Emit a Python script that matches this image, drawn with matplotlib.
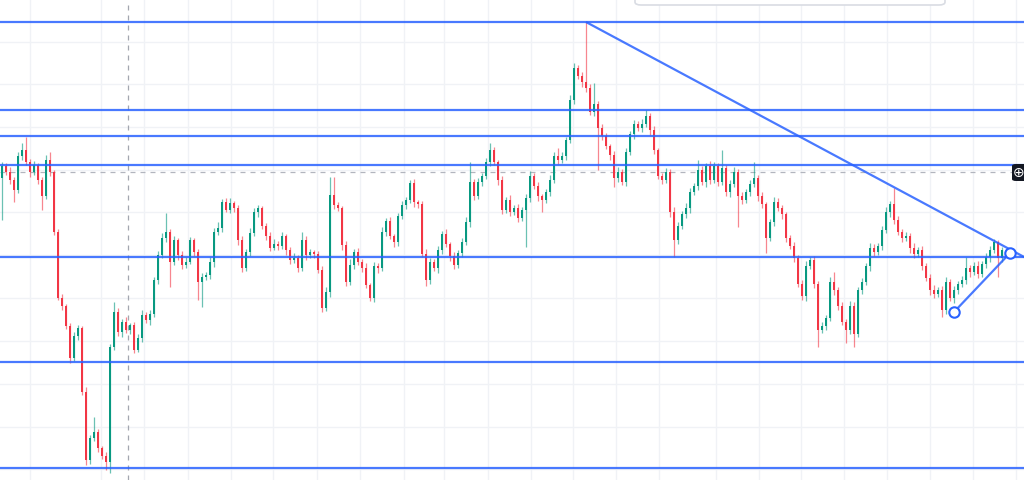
import numpy as np
import matplotlib.pyplot as plt
from matplotlib.patches import FancyBboxPatch

# candle data (price units), one bar per 4 px of the original screenshot
first_open = 302
closes = [
    314, 308, 300, 290, 324, 330, 318, 308, 315, 300,
    284, 320, 308, 248, 182, 174, 154, 122, 144, 152,
    88, 20, 42, 48, 32, 24, 18, 133, 168, 148,
    158, 150, 155, 130, 142, 165, 160, 166, 200, 225,
    242, 248, 218, 240, 225, 215, 218, 240, 228, 198,
    203, 205, 218, 248, 252, 278, 270, 277, 272, 240,
    212, 228, 247, 268, 272, 254, 244, 232, 236, 234,
    244, 230, 220, 222, 212, 240, 225, 228, 226, 210,
    172, 188, 285, 275, 272, 235, 198, 215, 228, 218,
    212, 195, 182, 214, 212, 248, 259, 244, 238, 264,
    275, 280, 297, 278, 276, 226, 200, 218, 212, 230,
    246, 236, 224, 215, 227, 238, 258, 298, 284, 298,
    304, 318, 330, 318, 300, 270, 280, 268, 272, 262,
    270, 282, 304, 294, 284, 280, 288, 300, 324, 320,
    324, 340, 380, 412, 404, 398, 392, 368, 376, 352,
    344, 334, 325, 302, 308, 298, 328, 346, 356, 352,
    356, 364, 350, 330, 304, 300, 308, 268, 240, 254,
    266, 272, 288, 294, 310, 298, 314, 300, 314, 298,
    312, 288, 296, 308, 284, 280, 288, 296, 302, 284,
    276, 242, 258, 278, 272, 266, 242, 234, 222, 196,
    184, 214, 220, 196, 150, 154, 162, 198, 190, 174,
    158, 150, 174, 146, 190, 198, 214, 232, 228, 234,
    250, 268, 276, 260, 248, 242, 244, 232, 226, 230,
    214, 202, 190, 186, 190, 170, 198, 182, 190, 196,
    200, 212, 208, 214, 206, 216, 223, 230, 238, 222,
    230,
]
upper_wicks = [
    4, 3, 5, 3, 4, 7, 13, 3, 4, 2,
    3, 5, 8, 2, 3, 4, 2, 3, 4, 3,
    2, 5, 3, 15, 3, 2, 4, 3, 10, 4,
    3, 5, 2, 3, 4, 5, 3, 4, 3, 4,
    5, 19, 3, 4, 2, 4, 5, 3, 2, 3,
    4, 3, 5, 4, 6, 3, 4, 5, 2, 3,
    4, 3, 5, 4, 3, 2, 3, 4, 5, 3,
    4, 2, 3, 5, 3, 8, 4, 3, 2, 3,
    4, 5, 18, 18, 3, 2, 4, 6, 3, 4,
    3, 5, 2, 4, 3, 5, 3, 4, 2, 3,
    4, 3, 3, 4, 2, 3, 5, 4, 3, 4,
    3, 5, 2, 4, 3, 4, 5, 20, 3, 4,
    3, 4, 7, 3, 2, 4, 3, 5, 3, 4,
    3, 4, 5, 3, 4, 2, 3, 5, 4, 8,
    4, 3, 5, 5, 3, 4, 60, 4, 21, 3,
    4, 3, 2, 4, 5, 3, 4, 3, 4, 3,
    5, 6, 3, 4, 2, 3, 4, 3, 5, 4,
    3, 5, 4, 3, 10, 4, 3, 5, 4, 3,
    18, 3, 4, 5, 3, 4, 3, 4, 16, 3,
    4, 2, 3, 5, 4, 3, 2, 3, 4, 3,
    4, 5, 3, 4, 3, 4, 3, 5, 10, 3,
    4, 3, 5, 4, 3, 4, 3, 5, 4, 3,
    4, 5, 3, 16, 4, 3, 4, 3, 5, 3,
    4, 3, 4, 5, 3, 4, 5, 3, 4, 3,
    4, 11, 3, 4, 5, 3, 4, 4, 3, 2,
    3,
]
lower_wicks = [
    42, 3, 4, 12, 3, 4, 3, 5, 3, 4,
    14, 3, 4, 3, 2, 4, 3, 5, 3, 4,
    3, 5, 4, 3, 4, 3, 8, 11, 3, 4,
    5, 3, 4, 3, 2, 4, 3, 5, 3, 4,
    3, 4, 25, 3, 5, 4, 3, 2, 4, 18,
    25, 3, 4, 5, 3, 4, 2, 3, 4, 5,
    4, 3, 4, 3, 5, 3, 4, 3, 2, 4,
    3, 5, 4, 3, 4, 3, 5, 3, 4, 3,
    4, 3, 5, 4, 3, 5, 4, 3, 4, 3,
    4, 3, 3, 4, 5, 3, 4, 3, 5, 4,
    3, 4, 3, 5, 4, 3, 6, 4, 3, 5,
    4, 3, 5, 4, 3, 4, 3, 5, 4, 3,
    4, 3, 4, 3, 5, 4, 3, 4, 3, 4,
    3, 37, 4, 3, 5, 12, 3, 4, 3, 4,
    3, 4, 3, 4, 3, 5, 4, 3, 4, 42,
    4, 3, 5, 9, 4, 3, 4, 3, 5, 3,
    4, 3, 5, 4, 3, 4, 3, 5, 17, 4,
    3, 4, 5, 3, 4, 3, 5, 4, 3, 4,
    3, 4, 5, 3, 31, 4, 3, 4, 3, 5,
    4, 15, 3, 4, 3, 5, 4, 3, 4, 3,
    4, 5, 3, 4, 17, 3, 4, 3, 5, 4,
    3, 13, 4, 13, 3, 4, 3, 5, 4, 3,
    4, 3, 5, 4, 3, 4, 3, 5, 4, 3,
    4, 3, 5, 4, 3, 7, 4, 3, 5, 4,
    3, 4, 5, 3, 4, 3, 4, 5, 3, 19,
    4,
]

# drawings on the chart
levels = [458, 370, 344, 315, 223, 118, 12]
last_price = 308
crosshair_bar = 31.5
trend_start = (146, 458)
trend_end = (256, 222)
wedge_start = (238, 168)
wedge_end = (252, 227)

time_grid = [7, 24.8, 35.5, 46.5, 57.3, 67.8, 78.8, 89.5, 100.5, 110.5, 121.5,
             132.3, 142.8, 153.5, 164.3, 178.5, 189.3, 199.8, 210.5, 221.3,
             232, 242.8, 253.5]
price_grid = [11, 53, 96, 139, 182, 225, 268, 310, 353, 396, 438]

UP = '#089981'
DOWN = '#f23645'
BLUE = '#2962ff'

closes = np.array(closes, dtype=float)
opens = np.concatenate([[first_open], closes[:-1]])
tops = np.maximum(opens, closes)
bottoms = np.minimum(opens, closes)
highs = tops + np.array(upper_wicks)
lows = bottoms - np.array(lower_wicks)
idx = np.arange(len(closes))
colors = np.where(closes >= opens, UP, DOWN)

fig = plt.figure(figsize=(10.24, 4.8), dpi=100)
ax = fig.add_axes([0, 0, 1, 1])
ax.set_xlim(-0.5, 255.5)
ax.set_ylim(0, 480)
for s in ax.spines.values():
    s.set_visible(False)
ax.set_xticks(time_grid)
ax.set_yticks(price_grid)
ax.tick_params(length=0, labelbottom=False, labelleft=False)
ax.grid(color='#f0f2f6', lw=1.0, zorder=0)
ax.set_axisbelow(True)

# crosshair and last price line
ax.axvline(crosshair_bar, color='#a3a6af', lw=0.9, ls=(0, (4, 4)), zorder=1)
ax.axhline(last_price, color='#b2b5be', lw=0.9, ls=(0, (4, 4)), zorder=1)

# candles
ax.vlines(idx, lows, highs, colors=colors, lw=0.9, alpha=0.6, zorder=2)
heights = np.maximum(tops - bottoms, 1.0)
ax.bar(idx, heights, bottom=bottoms, width=0.74, color=colors, lw=0, zorder=3)

# horizontal levels
for lv in levels:
    ax.axhline(lv, color=BLUE, lw=1.6, alpha=0.85, zorder=4)

# trend lines
ax.plot([trend_start[0], trend_end[0]], [trend_start[1], trend_end[1]],
        color=BLUE, lw=1.6, alpha=0.85, zorder=4, solid_capstyle='butt')
ax.plot([wedge_start[0], wedge_end[0]], [wedge_start[1], wedge_end[1]],
        color=BLUE, lw=1.6, alpha=0.85, zorder=4)
ax.plot([wedge_start[0], wedge_end[0]], [wedge_start[1], wedge_end[1]], 'o',
        ms=7.5, mfc='white', mec=BLUE, mew=1.5, zorder=5)

# floating toolbar at the top and the "+" button on the right
fig.patches.append(FancyBboxPatch((635 / 1024, 1 - 5 / 480), 310 / 1024, 20 / 480,
                                  boxstyle='round,pad=0,rounding_size=0.006',
                                  transform=fig.transFigure, fc='white',
                                  ec='#d9dce3', lw=1.2, zorder=10))
fig.patches.append(FancyBboxPatch((1012 / 1024, 1 - 181 / 480), 16 / 1024, 17 / 480,
                                  boxstyle='round,pad=0,rounding_size=0.004',
                                  transform=fig.transFigure, fc='#131722',
                                  ec='none', zorder=10))
fig.text(1018.5 / 1024, 1 - 172.5 / 480, '\u2295', color='white', fontsize=10,
         ha='center', va='center', zorder=11)

fig.savefig('out.png', dpi=100)
